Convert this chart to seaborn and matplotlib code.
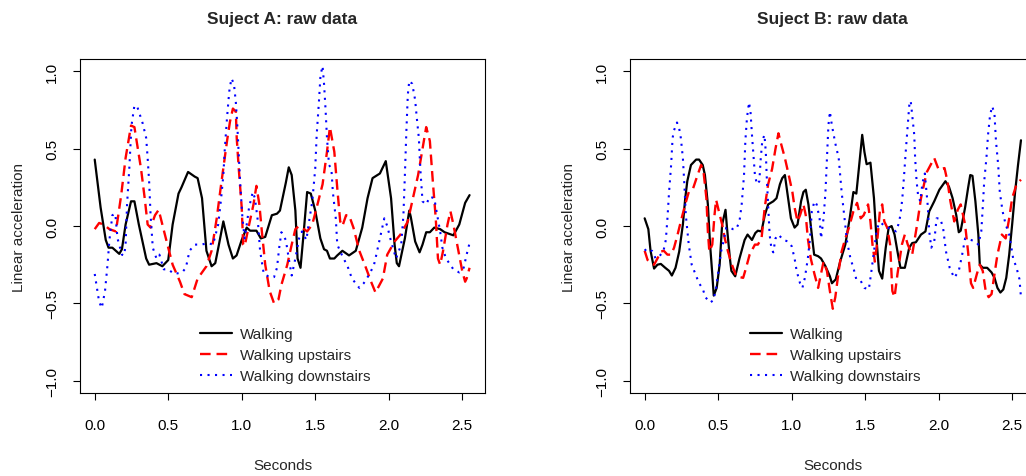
import numpy as np
import pandas as pd
import matplotlib
matplotlib.use("Agg")
import matplotlib.pyplot as plt
import seaborn as sns

# values: (seconds, linear acceleration)
a_walk = [(0.0, 0.43), (0.04, 0.12), (0.075, -0.09), (0.094, -0.14), (0.12, -0.14), (0.167, -0.18), (0.185, -0.15),
          (0.21, 0.01), (0.247, 0.16), (0.27, 0.16), (0.30, 0.01), (0.35, -0.21), (0.37, -0.25), (0.42, -0.24),
          (0.46, -0.26), (0.50, -0.22), (0.53, 0.01), (0.57, 0.21), (0.59, 0.25), (0.635, 0.35), (0.68, 0.32),
          (0.70, 0.31), (0.73, 0.18), (0.76, -0.16), (0.795, -0.26), (0.82, -0.24), (0.845, -0.12), (0.875, 0.03),
          (0.91, -0.12), (0.94, -0.21), (0.965, -0.19), (1.0, -0.09), (1.034, -0.01), (1.057, -0.03), (1.10, -0.03),
          (1.13, -0.08), (1.16, -0.07), (1.205, 0.07), (1.24, 0.08), (1.26, 0.10), (1.30, 0.28), (1.32, 0.38),
          (1.34, 0.33), (1.365, 0.10), (1.38, -0.21), (1.40, -0.27), (1.42, -0.06), (1.445, 0.22), (1.47, 0.21),
          (1.50, 0.10), (1.535, -0.08), (1.56, -0.15), (1.58, -0.16), (1.60, -0.21), (1.63, -0.21), (1.65, -0.19),
          (1.685, -0.16), (1.73, -0.19), (1.776, -0.16), (1.82, -0.01), (1.856, 0.18), (1.89, 0.31), (1.94, 0.34),
          (1.98, 0.42), (2.016, 0.18), (2.04, -0.12), (2.055, -0.24), (2.07, -0.26), (2.11, -0.08), (2.14, 0.10),
          (2.15, 0.06), (2.18, -0.10), (2.21, -0.17), (2.23, -0.12), (2.255, -0.04), (2.28, -0.04), (2.31, -0.01),
          (2.35, -0.02), (2.38, -0.04), (2.44, -0.06), (2.48, 0.01), (2.52, 0.15), (2.55, 0.20)]

a_up = [(0.0, -0.02), (0.03, 0.02), (0.06, 0.01), (0.10, -0.02), (0.144, -0.035), (0.18, 0.20), (0.21, 0.44),
        (0.247, 0.65), (0.27, 0.64), (0.29, 0.52), (0.315, 0.37), (0.34, 0.18), (0.36, 0.01), (0.38, -0.01),
        (0.41, 0.07), (0.435, 0.105), (0.46, 0.01), (0.50, -0.14), (0.53, -0.25), (0.58, -0.36), (0.61, -0.44),
        (0.66, -0.46), (0.70, -0.34), (0.76, -0.26), (0.795, -0.16), (0.83, 0.05), (0.86, 0.27), (0.90, 0.55),
        (0.92, 0.675), (0.94, 0.76), (0.96, 0.74), (0.966, 0.57), (0.98, 0.37), (1.0, 0.12), (1.01, -0.12),
        (1.02, -0.13), (1.046, -0.01), (1.08, 0.14), (1.10, 0.26), (1.12, 0.14), (1.137, -0.035), (1.16, -0.25),
        (1.19, -0.42), (1.22, -0.50), (1.25, -0.475), (1.27, -0.38), (1.31, -0.25), (1.34, -0.12), (1.365, -0.02),
        (1.39, 0.0), (1.41, -0.01), (1.445, -0.035), (1.48, 0.01), (1.51, 0.12), (1.55, 0.27), (1.58, 0.48),
        (1.60, 0.64), (1.63, 0.48), (1.65, 0.245), (1.67, 0.03), (1.685, 0.0), (1.71, 0.07), (1.73, 0.07),
        (1.76, -0.01), (1.80, -0.16), (1.845, -0.27), (1.88, -0.36), (1.91, -0.43), (1.96, -0.34), (1.99, -0.185),
        (2.04, -0.10), (2.08, -0.055), (2.13, 0.03), (2.16, 0.16), (2.20, 0.33), (2.23, 0.50), (2.255, 0.64),
        (2.28, 0.55), (2.30, 0.29), (2.32, 0.05), (2.335, -0.21), (2.35, -0.25), (2.37, -0.16), (2.40, 0.01),
        (2.42, 0.095), (2.44, 0.01), (2.47, -0.14), (2.50, -0.29), (2.52, -0.36), (2.53, -0.34), (2.55, -0.27)]

a_down = [(0.0, -0.31), (0.03, -0.49), (0.048, -0.53), (0.07, -0.42), (0.087, -0.25), (0.10, -0.09), (0.12, 0.07),
          (0.14, 0.08), (0.155, -0.08), (0.185, -0.185), (0.20, -0.19), (0.21, -0.12), (0.22, 0.14), (0.235, 0.37),
          (0.25, 0.65), (0.27, 0.78), (0.29, 0.77), (0.326, 0.665), (0.35, 0.57), (0.36, 0.44), (0.37, 0.29),
          (0.38, 0.07), (0.395, -0.14), (0.42, -0.21), (0.44, -0.185), (0.47, -0.28), (0.50, -0.28), (0.54, -0.31),
          (0.595, -0.30), (0.62, -0.27), (0.645, -0.16), (0.68, -0.12), (0.726, -0.12), (0.77, -0.11), (0.805, -0.12),
          (0.84, 0.01), (0.86, 0.18), (0.875, 0.33), (0.885, 0.50), (0.90, 0.70), (0.915, 0.87), (0.93, 0.955),
          (0.947, 0.92), (0.96, 0.80), (0.97, 0.65), (0.98, 0.46), (0.99, 0.27), (1.005, 0.05), (1.02, -0.08),
          (1.034, 0.01), (1.05, 0.12), (1.075, 0.22), (1.09, 0.18), (1.11, 0.03), (1.125, -0.16), (1.15, -0.31),
          (1.19, -0.33), (1.22, -0.33), (1.24, -0.27), (1.255, -0.14), (1.27, -0.04), (1.30, -0.09), (1.32, -0.21),
          (1.34, -0.32), (1.365, -0.21), (1.39, -0.08), (1.41, -0.035), (1.44, -0.09), (1.455, 0.01), (1.48, 0.16),
          (1.50, 0.37), (1.51, 0.59), (1.525, 0.80), (1.536, 0.975), (1.55, 1.035), (1.56, 0.92), (1.57, 0.76),
          (1.58, 0.57), (1.594, 0.395), (1.61, 0.37), (1.62, 0.22), (1.64, 0.05), (1.65, -0.12), (1.685, -0.195),
          (1.72, -0.26), (1.75, -0.34), (1.80, -0.40), (1.83, -0.37), (1.87, -0.31), (1.90, -0.25), (1.91, -0.21),
          (1.94, -0.08), (1.97, 0.05), (1.99, 0.0), (2.016, -0.10), (2.05, -0.21), (2.085, -0.12), (2.10, 0.07),
          (2.11, 0.33), (2.12, 0.61), (2.13, 0.85), (2.14, 0.94), (2.16, 0.92), (2.18, 0.815), (2.19, 0.71),
          (2.205, 0.57), (2.215, 0.37), (2.23, 0.16), (2.255, 0.14), (2.28, 0.19), (2.31, 0.18), (2.33, 0.07),
          (2.35, -0.035), (2.365, -0.14), (2.39, -0.21), (2.44, -0.28), (2.48, -0.30), (2.51, -0.27), (2.53, -0.185),
          (2.55, -0.11)]

b_walk = [(0.0, 0.05), (0.025, -0.02), (0.04, -0.16), (0.064, -0.275), (0.087, -0.25), (0.11, -0.245), (0.14, -0.27),
          (0.166, -0.29), (0.185, -0.32), (0.21, -0.27), (0.235, -0.165), (0.26, 0.01), (0.276, 0.18), (0.29, 0.29),
          (0.315, 0.395), (0.35, 0.43), (0.37, 0.43), (0.395, 0.395), (0.41, 0.33), (0.43, 0.14), (0.445, -0.12),
          (0.46, -0.31), (0.47, -0.45), (0.49, -0.40), (0.51, -0.25), (0.527, 0.01), (0.55, 0.105), (0.56, -0.01),
          (0.58, -0.21), (0.59, -0.29), (0.616, -0.325), (0.645, -0.21), (0.68, -0.09), (0.70, -0.055), (0.73, -0.09),
          (0.753, -0.045), (0.77, -0.03), (0.795, -0.035), (0.817, 0.07), (0.84, 0.14), (0.875, 0.16), (0.897, 0.18),
          (0.92, 0.27), (0.936, 0.31), (0.954, 0.33), (0.97, 0.22), (0.995, 0.05), (1.02, -0.01), (1.04, 0.01),
          (1.064, 0.16), (1.08, 0.22), (1.096, 0.235), (1.114, 0.14), (1.137, -0.055), (1.153, -0.185), (1.18, -0.195),
          (1.20, -0.21), (1.23, -0.26), (1.26, -0.325), (1.274, -0.37), (1.30, -0.345), (1.33, -0.23), (1.365, -0.12),
          (1.395, 0.05), (1.42, 0.22), (1.44, 0.21), (1.457, 0.37), (1.48, 0.59), (1.495, 0.48), (1.51, 0.40),
          (1.536, 0.41), (1.56, 0.18), (1.577, -0.08), (1.594, -0.29), (1.616, -0.34), (1.64, -0.14), (1.66, -0.01),
          (1.68, 0.0), (1.70, -0.055), (1.72, -0.165), (1.74, -0.27), (1.77, -0.27), (1.80, -0.14), (1.82, -0.11),
          (1.845, -0.105), (1.88, -0.055), (1.91, -0.035), (1.936, 0.095), (1.97, 0.16), (2.005, 0.235), (2.046, 0.29),
          (2.07, 0.255), (2.095, 0.18), (2.12, 0.07), (2.137, -0.04), (2.15, -0.03), (2.18, 0.12), (2.20, 0.245),
          (2.215, 0.33), (2.23, 0.325), (2.25, 0.16), (2.27, -0.055), (2.28, -0.25), (2.30, -0.27), (2.33, -0.27),
          (2.36, -0.30), (2.38, -0.335), (2.40, -0.40), (2.42, -0.43), (2.44, -0.41), (2.46, -0.335), (2.48, -0.185),
          (2.50, 0.01), (2.52, 0.22), (2.54, 0.395), (2.56, 0.555)]

b_up = [(0.0, -0.16), (0.02, -0.22), (0.04, -0.24), (0.064, -0.25), (0.087, -0.21), (0.11, -0.165), (0.13, -0.16),
        (0.155, -0.185), (0.18, -0.185), (0.20, -0.14), (0.224, -0.055), (0.246, 0.03), (0.276, 0.14), (0.30, 0.22),
        (0.33, 0.245), (0.36, 0.33), (0.384, 0.395), (0.40, 0.355), (0.42, 0.18), (0.43, -0.035), (0.44, -0.165),
        (0.46, -0.12), (0.475, 0.07), (0.486, 0.17), (0.505, 0.095), (0.527, 0.01), (0.545, -0.08), (0.567, -0.165),
        (0.59, -0.24), (0.623, -0.325), (0.67, -0.335), (0.69, -0.27), (0.714, -0.185), (0.75, -0.12), (0.77, -0.12),
        (0.795, -0.08), (0.817, 0.12), (0.84, 0.27), (0.867, 0.37), (0.89, 0.50), (0.91, 0.60), (0.93, 0.525),
        (0.954, 0.44), (0.98, 0.33), (1.005, 0.22), (1.02, 0.12), (1.04, 0.03), (1.057, 0.07), (1.08, 0.14),
        (1.096, 0.07), (1.11, -0.08), (1.13, -0.21), (1.155, -0.31), (1.18, -0.40), (1.194, -0.335), (1.217, -0.23),
        (1.24, -0.29), (1.26, -0.42), (1.28, -0.535), (1.297, -0.46), (1.32, -0.29), (1.34, -0.165), (1.365, -0.08),
        (1.39, -0.01), (1.42, 0.095), (1.445, 0.15), (1.47, 0.05), (1.49, 0.07), (1.52, 0.14), (1.536, 0.03),
        (1.55, -0.12), (1.566, -0.23), (1.58, -0.12), (1.60, 0.095), (1.616, 0.14), (1.63, 0.03), (1.65, -0.01),
        (1.67, -0.12), (1.685, -0.42), (1.70, -0.46), (1.72, -0.31), (1.75, -0.12), (1.77, -0.055), (1.79, -0.12),
        (1.82, -0.185), (1.85, -0.01), (1.88, 0.18), (1.905, 0.29), (1.92, 0.35), (1.945, 0.395), (1.97, 0.44),
        (2.0, 0.365), (2.04, 0.375), (2.06, 0.29), (2.08, 0.16), (2.106, 0.03), (2.13, 0.105), (2.15, 0.14),
        (2.18, 0.01), (2.20, -0.165), (2.22, -0.37), (2.235, -0.40), (2.26, -0.31), (2.28, -0.25), (2.30, -0.29),
        (2.32, -0.42), (2.34, -0.46), (2.36, -0.44), (2.38, -0.31), (2.40, -0.185), (2.43, -0.055), (2.456, -0.08),
        (2.48, 0.05), (2.50, 0.18), (2.53, 0.27), (2.56, 0.30)]

b_down = [(0.0, -0.15), (0.02, -0.17), (0.05, -0.16), (0.075, -0.21), (0.10, -0.195), (0.127, -0.165), (0.144, -0.09),
          (0.155, 0.05), (0.166, 0.22), (0.18, 0.395), (0.19, 0.57), (0.20, 0.62), (0.22, 0.67), (0.235, 0.63),
          (0.246, 0.57), (0.26, 0.44), (0.27, 0.27), (0.28, 0.07), (0.30, -0.12), (0.32, -0.25), (0.345, -0.31),
          (0.37, -0.37), (0.395, -0.405), (0.413, -0.46), (0.445, -0.495), (0.468, -0.48), (0.486, -0.40),
          (0.505, -0.27), (0.52, -0.165), (0.536, -0.10), (0.555, -0.01), (0.58, -0.01), (0.60, -0.02), (0.623, -0.02),
          (0.645, 0.03), (0.66, 0.14), (0.676, 0.33), (0.685, 0.55), (0.696, 0.70), (0.71, 0.80), (0.72, 0.74),
          (0.73, 0.59), (0.74, 0.46), (0.75, 0.33), (0.764, 0.27), (0.78, 0.29), (0.79, 0.44), (0.80, 0.55),
          (0.815, 0.59), (0.824, 0.48), (0.83, 0.33), (0.84, 0.14), (0.85, -0.055), (0.863, -0.15), (0.875, -0.17),
          (0.89, -0.08), (0.91, -0.055), (0.943, -0.09), (0.977, -0.10), (1.0, -0.13), (1.02, -0.21), (1.034, -0.29),
          (1.057, -0.37), (1.073, -0.40), (1.09, -0.335), (1.11, -0.21), (1.125, -0.08), (1.137, 0.095), (1.155, 0.16),
          (1.17, 0.14), (1.19, 0.05), (1.20, -0.08), (1.217, 0.05), (1.23, 0.22), (1.24, 0.44), (1.25, 0.65),
          (1.26, 0.74), (1.274, 0.65), (1.297, 0.535), (1.32, 0.44), (1.33, 0.33), (1.34, 0.22), (1.36, 0.05),
          (1.377, -0.10), (1.40, -0.21), (1.42, -0.27), (1.44, -0.345), (1.47, -0.355), (1.495, -0.40), (1.525, -0.41),
          (1.54, -0.31), (1.56, -0.165), (1.577, -0.035), (1.594, 0.02), (1.61, 0.02), (1.63, 0.0), (1.65, -0.01),
          (1.685, -0.02), (1.71, -0.035), (1.726, 0.01), (1.74, 0.07), (1.753, 0.18), (1.765, 0.33), (1.776, 0.48),
          (1.79, 0.65), (1.80, 0.78), (1.81, 0.81), (1.82, 0.72), (1.834, 0.59), (1.84, 0.44), (1.85, 0.29),
          (1.86, 0.20), (1.875, 0.16), (1.89, 0.28), (1.906, 0.34), (1.925, 0.14), (1.936, -0.035), (1.95, -0.14),
          (1.97, -0.10), (1.986, 0.05), (2.01, 0.05), (2.03, -0.01), (2.05, -0.165), (2.075, -0.27), (2.106, -0.335),
          (2.137, -0.29), (2.16, -0.185), (2.18, -0.08), (2.22, -0.09), (2.25, -0.10), (2.27, -0.12), (2.29, -0.035),
          (2.30, 0.12), (2.31, 0.29), (2.325, 0.44), (2.336, 0.59), (2.35, 0.72), (2.365, 0.775), (2.38, 0.72),
          (2.39, 0.55), (2.405, 0.395), (2.416, 0.22), (2.435, 0.095), (2.456, 0.01), (2.48, -0.055), (2.507, -0.21),
          (2.53, -0.27), (2.55, -0.345), (2.56, -0.46)]

labels = ["Walking", "Walking upstairs", "Walking downstairs"]
titles = ["Suject A: raw data", "Suject B: raw data"]
x_ticks = [0.0, 0.5, 1.0, 1.5, 2.0, 2.5]
y_ticks = [-1.0, -0.5, 0.0, 0.5, 1.0]

sns.set_theme(style="white")
plt.rcParams["font.family"] = ["Liberation Sans", "DejaVu Sans"]

styles = [dict(color="black", lw=1.6, ls="-"),
          dict(color="red", lw=1.7, ls=(0, (4.5, 2.5))),
          dict(color="blue", lw=1.5, ls=(0, (1, 2.6)))]

fig = plt.figure(figsize=(10.26, 4.77), dpi=100)
axes = [fig.add_axes([0.078, 0.174, 0.3947, 0.700]),
        fig.add_axes([0.614, 0.174, 0.3947, 0.700])]

for ax, series, title in zip(axes, [[a_walk, a_up, a_down], [b_walk, b_up, b_down]], titles):
    for pts, lab, st in zip(series, labels, styles):
        df = pd.DataFrame(pts, columns=["t", "acc"])
        sns.lineplot(data=df, x="t", y="acc", ax=ax, label=lab, errorbar=None,
                     color=st["color"], linewidth=st["lw"], linestyle=st["ls"])
    ax.set_xlim(-0.1, 2.655)
    ax.set_ylim(-1.08, 1.08)
    ax.set_xticks(x_ticks)
    ax.set_xticklabels([f"{v:.1f}" for v in x_ticks])
    ax.set_yticks(y_ticks)
    ax.set_yticklabels([f"{v:.1f}".replace("-", "\u2212") for v in y_ticks], rotation=90, va="center")
    ax.tick_params(axis="both", direction="out", length=5, width=0.8, colors="black",
                   labelsize=11, bottom=True, left=True)
    ax.tick_params(axis="x", pad=13)
    ax.tick_params(axis="y", pad=10)
    for sp in ax.spines.values():
        sp.set_color("black")
        sp.set_linewidth(0.8)
    ax.set_xlabel("Seconds", fontsize=11, labelpad=19)
    ax.set_ylabel("Linear acceleration", fontsize=11, labelpad=14)
    ax.set_title(title, fontsize=12.5, fontweight="bold", pad=26)
    ax.legend(loc="upper left", bbox_to_anchor=(0.296, 0.197), frameon=False, fontsize=11,
              handlelength=2.1, handletextpad=0.5, labelspacing=0.45, borderpad=0, borderaxespad=0)

fig.savefig("out.png", dpi=100)
